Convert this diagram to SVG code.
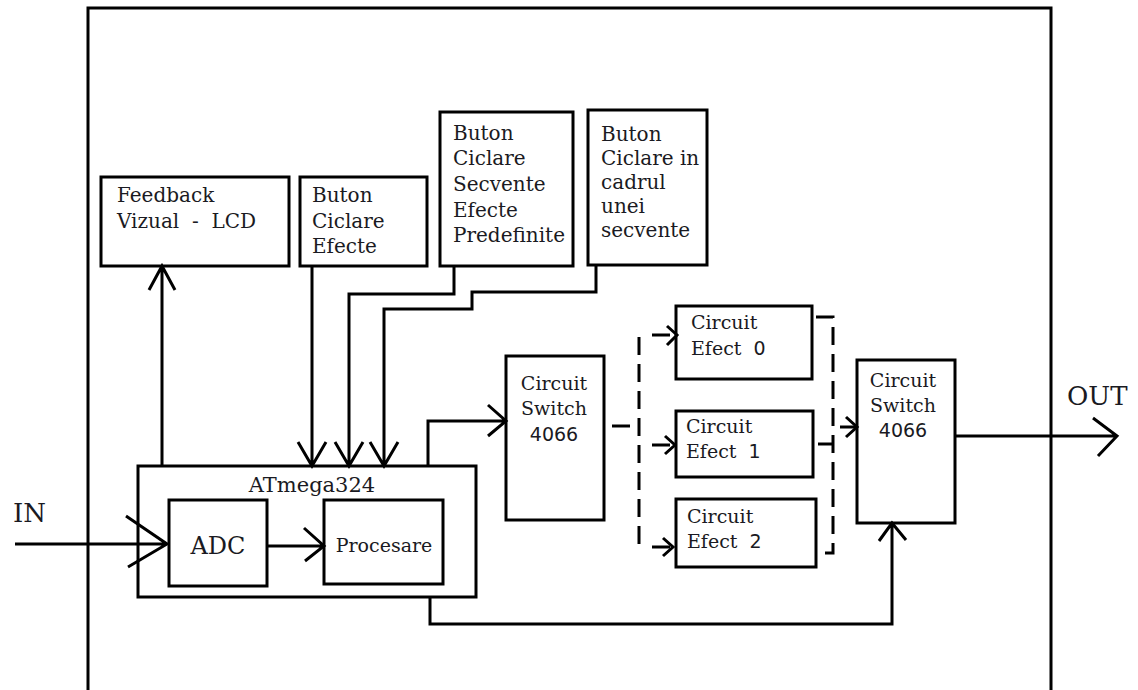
<svg xmlns="http://www.w3.org/2000/svg" width="1138" height="690" viewBox="0 0 1138 690">
<style>
.box{fill:#fff;stroke:#000;stroke-width:3}
.ln{fill:none;stroke:#000;stroke-width:3}
.ds{fill:none;stroke:#000;stroke-width:3;stroke-dasharray:18 9}
.t{font-family:"DejaVu Serif",serif;font-size:20px;fill:#1a1a22}
.s{font-family:"DejaVu Serif",serif;font-size:19px;fill:#1a1a22}
.n{font-family:"DejaVu Sans",sans-serif;font-size:19px;fill:#1a1a22}
.big{font-family:"DejaVu Serif",serif;font-size:26px;fill:#1a1a22}
</style>
<rect width="1138" height="690" fill="#fff"/>
<path class="ln" d="M88,692 V8 H1051 V692"/>

<g id="feedback">
<rect class="box" x="101" y="177" width="188" height="89"/>
<text class="t" x="117" y="202">Feedback</text>
<text class="t" x="117" y="228" xml:space="preserve">Vizual  -  LCD</text>
</g>
<g id="buton-efecte">
<rect class="box" x="300" y="177" width="127" height="89"/>
<text class="t" x="312" y="202">Buton</text>
<text class="t" x="312" y="228">Ciclare</text>
<text class="t" x="312" y="253">Efecte</text>
</g>
<g id="buton-secvente">
<rect class="box" x="440" y="112" width="133" height="154"/>
<text class="t" x="453" y="140">Buton</text>
<text class="t" x="453" y="165">Ciclare</text>
<text class="t" x="453" y="191">Secvente</text>
<text class="t" x="453" y="217">Efecte</text>
<text class="t" x="453" y="242">Predefinite</text>
</g>
<g id="buton-cadrul">
<rect class="box" x="588" y="110" width="119" height="155"/>
<text class="t" x="601" y="141">Buton</text>
<text class="t" x="601" y="165">Ciclare in</text>
<text class="t" x="601" y="189">cadrul</text>
<text class="t" x="601" y="213">unei</text>
<text class="t" x="601" y="237">secvente</text>
</g>
<g id="atmega">
<rect class="box" x="138" y="466" width="338" height="131"/>
<text x="312" y="492" text-anchor="middle" font-family="DejaVu Serif, serif" font-size="21" fill="#1a1a22">ATmega324</text>
</g>
<g id="adc">
<rect class="box" x="169" y="500" width="98" height="86"/>
<text x="218" y="554" text-anchor="middle" font-family="DejaVu Serif, serif" font-size="24" fill="#1a1a22">ADC</text>
</g>
<g id="procesare">
<rect class="box" x="324" y="500" width="119" height="84"/>
<text class="s" x="384" y="552" text-anchor="middle">Procesare</text>
</g>
<g id="switch1">
<rect class="box" x="506" y="356" width="98" height="164"/>
<text class="s" x="554" y="390" text-anchor="middle">Circuit</text>
<text class="s" x="554" y="415" text-anchor="middle">Switch</text>
<text class="n" x="554" y="441" text-anchor="middle">4066</text>
</g>
<g id="efect0">
<rect class="box" x="676" y="306" width="136" height="73"/>
<text class="s" x="691" y="329">Circuit</text>
<text class="s" x="691" y="355" xml:space="preserve">Efect  <tspan class="n">0</tspan></text>
</g>
<g id="efect1">
<rect class="box" x="676" y="411" width="137" height="66"/>
<text class="s" x="686" y="433">Circuit</text>
<text class="s" x="686" y="458" xml:space="preserve">Efect  <tspan class="n">1</tspan></text>
</g>
<g id="efect2">
<rect class="box" x="676" y="499" width="140" height="68"/>
<text class="s" x="687" y="523">Circuit</text>
<text class="s" x="687" y="548" xml:space="preserve">Efect  <tspan class="n">2</tspan></text>
</g>
<g id="switch2">
<rect class="box" x="857" y="360" width="98" height="163"/>
<text class="s" x="903" y="387" text-anchor="middle">Circuit</text>
<text class="s" x="903" y="412" text-anchor="middle">Switch</text>
<text class="n" x="903" y="437" text-anchor="middle">4066</text>
</g>
<g id="labels">
<text class="big" x="13" y="522">IN</text>
<text class="big" x="1067" y="405">OUT</text>
</g>

<g id="connectors">
<path class="ln" d="M15,544 H167 M126,516 L167,544 L128,567"/>
<path class="ln" d="M267,546 H324 M304,528 L324,546 L305,561"/>
<path class="ln" d="M162,466 V266 M149,290 L162,266 L175,290"/>
<path class="ln" d="M312,266 V466 M298,442 L312,466 L326,442"/>
<path class="ln" d="M454,266 V294 H349 V466 M335,442 L349,466 L363,442"/>
<path class="ln" d="M596,265 V292 H472 V309 H384 V466 M370,442 L384,466 L398,442"/>
<path class="ln" d="M428,466 V421 H506 M488,405 L506,421 L488,436"/>
<path class="ds" d="M612,426 H634"/>
<path class="ds" d="M639,337 V552"/>
<path class="ds" d="M652,335 H675 M652,445 H674 M652,547 H672"/>
<path class="ln" d="M667,326 L677,335 L667,345 M665,436 L675,445 L665,454 M663,538 L673,547 L663,556"/>
<path class="ds" d="M816,317 H833 V553 H819"/>
<path class="ln" d="M818,444 H833"/>
<path class="ds" d="M840,427 H855"/>
<path class="ln" d="M846,417 L857,427 L846,437"/>
<path class="ln" d="M955,436 H1117 M1093,418 L1117,436 L1098,456"/>
<path class="ln" d="M430,597 V624 H892 V523 M879,541 L892,523 L906,540"/>
</g>
</svg>
